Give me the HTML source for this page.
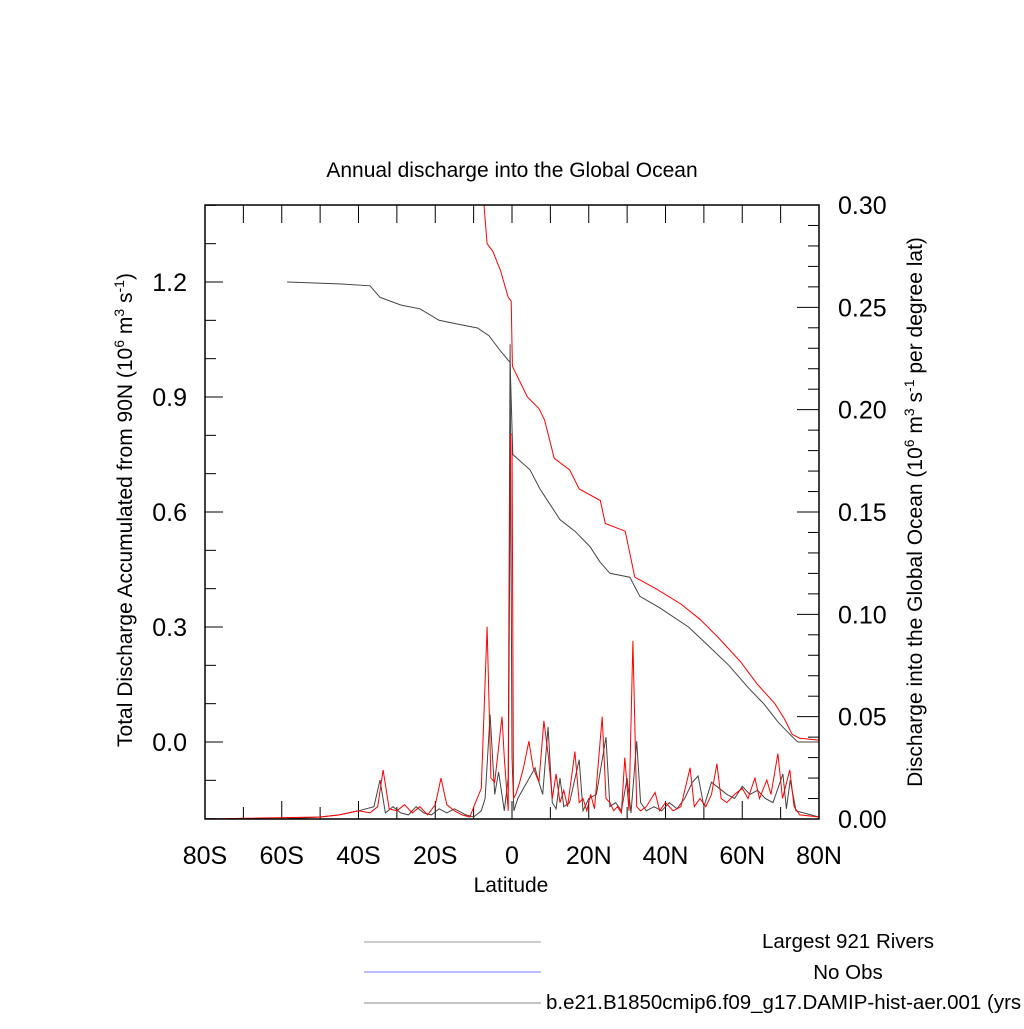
<!DOCTYPE html>
<html><head><meta charset="utf-8"><style>
body{margin:0;background:#fff;}
svg{font-family:"Liberation Sans",sans-serif;}
</style></head><body>
<svg id="c" width="1024" height="1024" viewBox="0 0 1024 1024">
<text x="512" y="177" font-size="21" text-anchor="middle">Annual discharge into the Global Ocean</text>
<g id="ticks"></g>
<g id="series"></g>
<rect x="205" y="205" width="614" height="614" fill="none" stroke="#000" stroke-width="1.5"/>
<text x="511" y="892" font-size="21" text-anchor="middle">Latitude</text>
<text transform="translate(132,510) rotate(-90)" font-size="21" text-anchor="middle">Total Discharge Accumulated from 90N (10<tspan dy="-8" font-size="14">6</tspan><tspan dy="8"> m</tspan><tspan dy="-8" font-size="14">3</tspan><tspan dy="8"> s</tspan><tspan dy="-8" font-size="14">-1</tspan><tspan dy="8">)</tspan></text>
<text transform="translate(922,512) rotate(-90)" font-size="21" text-anchor="middle">Discharge into the Global Ocean (10<tspan dy="-8" font-size="14">6</tspan><tspan dy="8"> m</tspan><tspan dy="-8" font-size="14">3</tspan><tspan dy="8"> s</tspan><tspan dy="-8" font-size="14">-1</tspan><tspan dy="8"> per degree lat)</tspan></text>
<g>
<line x1="364" y1="942" x2="541" y2="942" stroke="#999"/>
<text x="848" y="948" font-size="20.5" text-anchor="middle">Largest 921 Rivers</text>
<line x1="364" y1="972" x2="541" y2="972" stroke="#77f"/>
<text x="848" y="979" font-size="20.5" text-anchor="middle">No Obs</text>
<line x1="364" y1="1003" x2="541" y2="1003" stroke="#888"/>
<text x="546" y="1009" font-size="20.5">b.e21.B1850cmip6.f09_g17.DAMIP-hist-aer.001 (yrs</text>
</g>
</svg>
<script>
const xTickLabels=["80S","60S","40S","20S","0","20N","40N","60N","80N"];
const xTickVals=[-80,-60,-40,-20,0,20,40,60,80];
const leftTickVals=[0.0,0.3,0.6,0.9,1.2];
const leftTickLabels=["0.0","0.3","0.6","0.9","1.2"];
const rightTickVals=[0,0.05,0.1,0.15,0.2,0.25,0.3];
const rightTickLabels=["0.00","0.05","0.10","0.15","0.20","0.25","0.30"];
const modelCumLat=[-7.3,-6.5,-5,-3,-1,-0.2,0.1,4,7,8.5,11,15,17.5,23,24.3,29.5,32,37.5,44,49,54,59.5,64,68.5,71,73,75,80];
const modelCumVal=[1.40,1.30,1.28,1.23,1.16,1.15,0.98,0.90,0.87,0.84,0.74,0.71,0.66,0.63,0.57,0.55,0.43,0.40,0.36,0.32,0.27,0.21,0.15,0.10,0.06,0.02,0.01,0.005];
const obsCumLat=[-58.6,-45,-37,-34.4,-29,-24,-19,-14,-9,-6,-3,-0.5,0.2,4.7,7.3,9.9,12.5,16.4,20.3,22.9,25.5,30.7,33.3,38.5,46,51.3,56.5,61.7,65.6,69.5,73.4,74.5,80];
const obsCumVal=[1.20,1.195,1.19,1.16,1.14,1.13,1.10,1.09,1.08,1.06,1.02,0.99,0.75,0.71,0.66,0.62,0.58,0.55,0.51,0.47,0.44,0.43,0.38,0.35,0.30,0.25,0.20,0.14,0.10,0.05,0.01,0.0,0.0];
const modelLat=[-80,-50,-45,-40,-37,-35,-33.6,-32,-30,-28,-26,-24,-22,-20,-18.5,-17,-15,-13,-11,-9.5,-8,-6.5,-5.5,-4.5,-3.5,-2.6,-2,-1,-0.4,0,0.4,1,2,3,4.4,5.5,7,8.3,9.5,10.5,11.5,12.5,13.5,14.5,16.4,17.5,18.5,19.5,20.5,21.5,23.5,24.5,25.5,26.5,27.5,28.5,29.4,30.5,31.5,32.5,33.5,35,37.3,38.5,40,42,44,46.4,47.5,49,50.5,52,53.4,54.5,56,58,60,61.5,63.3,64.5,66.4,67.5,69.3,70.5,72.4,73.5,75,80];
const modelVal=[0,0.001,0.002,0.004,0.003,0.006,0.024,0.005,0.004,0.007,0.003,0.006,0.002,0.007,0.020,0.007,0.004,0.002,0.001,0.008,0.015,0.094,0.020,0.018,0.035,0.050,0.030,0.004,0.188,0.188,0.010,0.012,0.018,0.025,0.038,0.025,0.018,0.048,0.030,0.010,0.022,0.008,0.014,0.006,0.033,0.008,0.010,0.004,0.012,0.005,0.050,0.010,0.008,0.004,0.006,0.003,0.030,0.004,0.087,0.006,0.004,0.006,0.013,0.004,0.008,0.004,0.006,0.025,0.006,0.010,0.006,0.012,0.027,0.010,0.008,0.012,0.015,0.010,0.020,0.010,0.019,0.012,0.032,0.010,0.024,0.006,0.002,0.001];
const obsLat=[-80,-60,-50,-45,-40,-36,-34.4,-33,-31,-29,-27,-25,-23,-21,-19,-17,-15,-12,-10,-8,-7,-5.7,-4.5,-3.5,-2,-1,-0.5,0,0.5,1.5,3,4.5,6,7,8,9.4,10.5,11.5,12.5,13.5,15,17.5,18.5,20,22,24.5,25.5,27,28.5,30,31,32.5,33.5,35,37,39,41,43,45,47,48.5,50,52,54,56,58,60,62,64,66,68,70.6,71.5,72.5,74,80];
const obsVal=[0,0,0.001,0.002,0.004,0.006,0.019,0.003,0.006,0.003,0.002,0.006,0.003,0.002,0.005,0.003,0.005,0.002,0.001,0.004,0.010,0.051,0.012,0.023,0.004,0.020,0.232,0.030,0.004,0.010,0.015,0.020,0.025,0.018,0.012,0.045,0.008,0.005,0.020,0.006,0.008,0.029,0.004,0.010,0.012,0.040,0.006,0.008,0.004,0.020,0.003,0.038,0.008,0.004,0.006,0.004,0.008,0.005,0.010,0.018,0.021,0.006,0.018,0.015,0.012,0.010,0.016,0.012,0.014,0.010,0.008,0.022,0.005,0.019,0.004,0.001];

const NS="http://www.w3.org/2000/svg";
const X0=205,X1=819,Y0=205,Y1=819;
const xs=lat=>X0+(lat+80)/160*(X1-X0);
const yl=v=>742-v/0.3*115;
const yr=v=>Y1-v/0.3*(Y1-Y0);
function mk(tag,attrs,parent){const e=document.createElementNS(NS,tag);for(const k in attrs)e.setAttribute(k,attrs[k]);parent.appendChild(e);return e;}
const tg=document.getElementById('ticks'),sg=document.getElementById('series');
for(let lat=-80;lat<=80;lat+=10){
  const x=xs(lat);
  const t1=mk('line',{x1:x,y1:Y0,x2:x,y2:Y0+18,stroke:'#000'},tg);
  
  
  const t2=mk('line',{x1:x,y1:Y1,x2:x,y2:Y1-(lat%20===0?18:12),stroke:'#000'},tg);
  
  
}
xTickVals.forEach((v,i)=>{
  const t=mk('text',{x:xs(v),y:864,'font-size':25,'text-anchor':'middle'},tg);t.textContent=xTickLabels[i];
  
  
});
for(let k=-2;k<=14;k++){
  const v=k/10,y=yl(v);if(y<Y0||y>Y1)continue;
  const major=(k%3===0);
  const t=mk('line',{x1:X0,y1:y,x2:X0+(major?18:11),y2:y,stroke:'#000'},tg);
  
  
}
leftTickVals.forEach((v,i)=>{
  const t=mk('text',{x:187,y:yl(v)+9,'font-size':25,'text-anchor':'end'},tg);t.textContent=leftTickLabels[i];
  
  
});
for(let k=0;k<=30;k++){
  const y=yr(k/100);const major=(k%5===0);
  const t=mk('line',{x1:X1,y1:y,x2:X1-(major?22:11),y2:y,stroke:'#000'},tg);
  
  
}
rightTickVals.forEach((v,i)=>{
  const t=mk('text',{x:838,y:yr(v)+9,'font-size':25},tg);t.textContent=rightTickLabels[i];
  
  
});
function line(lats,vals,yf,col,name){
  const pts=lats.map((l,i)=>xs(l).toFixed(1)+','+yf(vals[i]).toFixed(1)).join(' ');
  const p=mk('polyline',{points:pts,fill:'none',stroke:col,'stroke-width':1},sg);
  
  
}
const clip=mk('clipPath',{id:'cp'},document.getElementById('c'));
mk('rect',{x:X0,y:Y0,width:X1-X0,height:Y1-Y0},clip);
sg.setAttribute('clip-path','url(#cp)');
line(obsLat,obsVal,yr,'#444','obs-discharge-line');
line(modelLat,modelVal,yr,'#f00','model-discharge-line');
line(obsCumLat,obsCumVal,yl,'#444','obs-cumulative-line');
line(modelCumLat,modelCumVal,yl,'#f00','model-cumulative-line');
</script>
</body></html>
